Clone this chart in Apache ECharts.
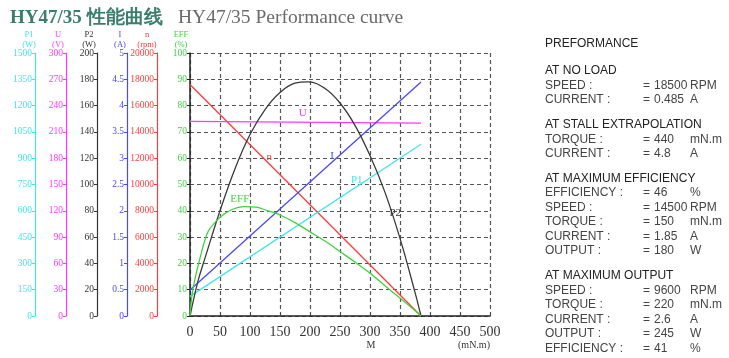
<!DOCTYPE html>
<html><head><meta charset="utf-8">
<script src="https://cdn.jsdelivr.net/npm/echarts@6/dist/echarts.min.js"></script>
<style>html,body{margin:0;padding:0;background:#fff}#c{width:729px;height:358px}</style>
</head><body><div id="c"></div>
<script>
// ---- data ----
const lineTorque = [0, 385];
const speedN = [17600, 0];          // rpm
const voltU = [222, 220];           // V
const currentI = [0.495, 4.45];     // A
const powerP1 = [112, 980];         // W
const p2Torque = [0, 13, 25, 50, 75, 100, 125, 150, 175, 197, 225, 250, 275, 300, 325, 350, 375, 385];
const powerP2 = [0, 26, 44, 80, 112, 138, 157, 170, 177, 178, 173, 162, 145, 122, 94, 59, 18, 0];
const effTorque = [0, 4, 15, 30, 50, 70, 90, 110, 130, 150, 175, 200, 225, 250, 275, 300, 325, 350, 370, 385];
const effEFF = [0, 9, 20.5, 32, 37.5, 40.5, 41.6, 41.4, 40, 38.4, 35.5, 32, 28.5, 24.5, 20.5, 16.3, 11.5, 6.8, 3, 0];
const xTicks = {min: 0, max: 500, interval: 50};
const axesDef = [
  {key: 'EFF', unit: '(%)', max: 100, interval: 10, color: '#3fd43f'},
  {key: 'n', unit: '(rpm)', max: 20000, interval: 2000, color: '#ff3b3b'},
  {key: 'I', unit: '(A)', max: 5, interval: 0.5, color: '#4848ff'},
  {key: 'P2', unit: '(W)', max: 200, interval: 20, color: '#333333'},
  {key: 'U', unit: '(V)', max: 300, interval: 30, color: '#ff38ff'},
  {key: 'P1', unit: '(W)', max: 1500, interval: 150, color: '#3ee6f0'}
];
const curveLabels = {U: [188, 231], n: [132, 12100], I: [237, 3.04], P1: [278, 776], EFF: [83, 44.5], P2: [342, 78]};
const perfSections = [
  {head: 'AT NO LOAD', rows: [['SPEED :', '18500', 'RPM'], ['CURRENT :', '0.485', 'A']]},
  {head: 'AT STALL EXTRAPOLATION', rows: [['TORQUE :', '440', 'mN.m'], ['CURRENT :', '4.8', 'A']]},
  {head: 'AT MAXIMUM EFFICIENCY', rows: [['EFFICIENCY :', '46', '%'], ['SPEED :', '14500', 'RPM'], ['TORQUE :', '150', 'mN.m'], ['CURRENT :', '1.85', 'A'], ['OUTPUT :', '180', 'W']]},
  {head: 'AT MAXIMUM OUTPUT', rows: [['SPEED :', '9600', 'RPM'], ['TORQUE :', '220', 'mN.m'], ['CURRENT :', '2.6', 'A'], ['OUTPUT :', '245', 'W'], ['EFFICIENCY :', '41', '%']]}
];

// ---- layout ----
const SERIF = '"Liberation Serif","DejaVu Serif",serif';
const SANS = '"Liberation Sans",Arial,sans-serif';
const axisOffsets = [0, 33, 63, 93, 124, 155];
const headerX = [181, 147, 120, 89, 58, 29];

const chart = echarts.init(document.getElementById('c'), null, {renderer: 'canvas'});
const zip = (xs, ys) => xs.map((x, i) => [x, ys[i]]);

const yAxis = axesDef.map((a, i) => ({
  type: 'value', position: 'left', offset: axisOffsets[i], min: 0, max: a.max, interval: a.interval,
  axisLine: {show: true, onZero: false, lineStyle: {color: i === 0 ? '#222' : a.color, width: i === 0 ? 1.5 : 1.2}},
  axisTick: {show: true, length: 3, lineStyle: {color: i === 0 ? '#222' : a.color}},
  axisLabel: {color: a.color, fontFamily: SERIF, fontSize: 9.5, margin: 3, formatter: v => String(v)},
  splitLine: i === 0 ? {show: true, lineStyle: {color: '#555', type: [4, 3], width: 1.2}} : {show: false}
}));

function mk(key, data, yi, smooth) {
  const a = axesDef[yi];
  const lp = curveLabels[key];
  return {
    type: 'line', name: key, yAxisIndex: yi, data: data, showSymbol: false, smooth: smooth || false,
    lineStyle: {color: a.color === '#333333' ? '#3a3a3a' : a.color, width: 1.3}, itemStyle: {color: a.color},
    silent: true,
    markPoint: {symbol: 'rect', symbolSize: 1, itemStyle: {color: 'rgba(0,0,0,0)'},
      label: {show: true, position: 'inside', formatter: key, color: a.color, fontFamily: SERIF, fontSize: 11},
      data: [{coord: lp}]}
  };
}

const series = [
  mk('n', zip(lineTorque, speedN), 1),
  mk('U', zip(lineTorque, voltU), 4),
  mk('I', zip(lineTorque, currentI), 2),
  mk('P1', zip(lineTorque, powerP1), 5),
  mk('P2', zip(p2Torque, powerP2), 3, 0.4),
  mk('EFF', zip(effTorque, effEFF), 0, 0.3)
];

const graphic = [];
graphic.push({type: 'text', left: 10, top: 9, style: {text: 'HY47/35 性能曲线', fill: '#3a7f6c', font: 'bold 19px ' + SERIF}});
graphic.push({type: 'text', left: 178, top: 8, style: {text: 'HY47/35 Performance curve', fill: '#6a6a6a', font: '19.5px ' + SERIF}});
axesDef.forEach((a, i) => {
  graphic.push({type: 'text', x: headerX[i], y: 30, style: {text: a.key + '\n' + a.unit, fill: a.color, font: '8.5px ' + SERIF, align: 'center', lineHeight: 10}});
});
graphic.push({type: 'text', x: 371, y: 345, style: {text: 'M', fill: '#333', font: '10px ' + SERIF, align: 'center', verticalAlign: 'middle'}});
graphic.push({type: 'text', x: 474, y: 345, style: {text: '(mN.m)', fill: '#333', font: '10px ' + SERIF, align: 'center', verticalAlign: 'middle'}});

// performance panel
const PF = '12px ' + SANS;
let yy = 44;
graphic.push({type: 'text', x: 545, y: yy, style: {text: 'PREFORMANCE', fill: '#222', font: PF, verticalAlign: 'middle'}});
yy = 71;
perfSections.forEach((s, si) => {
  graphic.push({type: 'text', x: 545, y: yy, style: {text: s.head, fill: '#222', font: PF, verticalAlign: 'middle'}});
  s.rows.forEach(r => {
    yy += 14.5;
    graphic.push({type: 'text', x: 545, y: yy, style: {text: r[0], fill: '#444', font: PF, verticalAlign: 'middle'}});
    graphic.push({type: 'text', x: 643, y: yy, style: {text: '=', fill: '#444', font: PF, verticalAlign: 'middle'}});
    graphic.push({type: 'text', x: 654, y: yy, style: {text: r[1], fill: '#444', font: PF, verticalAlign: 'middle'}});
    graphic.push({type: 'text', x: 690, y: yy, style: {text: r[2], fill: '#444', font: PF, verticalAlign: 'middle'}});
  });
  yy += 24.8;
});

chart.setOption({
  animation: false,
  backgroundColor: '#fff',
  grid: {left: 190, right: 239, top: 53, bottom: 42, containLabel: false},
  xAxis: {
    type: 'value', min: xTicks.min, max: xTicks.max, interval: xTicks.interval,
    axisLine: {show: true, onZero: false, lineStyle: {color: '#222', width: 1.5}},
    axisTick: {show: true, inside: true, length: 3, lineStyle: {color: '#444'}},
    axisLabel: {color: '#333', fontFamily: SERIF, fontSize: 14, margin: 9},
    splitLine: {show: true, lineStyle: {color: '#555', type: [4, 3], width: 1.2}}
  },
  yAxis: yAxis,
  series: series,
  graphic: graphic
});
</script></body></html>
